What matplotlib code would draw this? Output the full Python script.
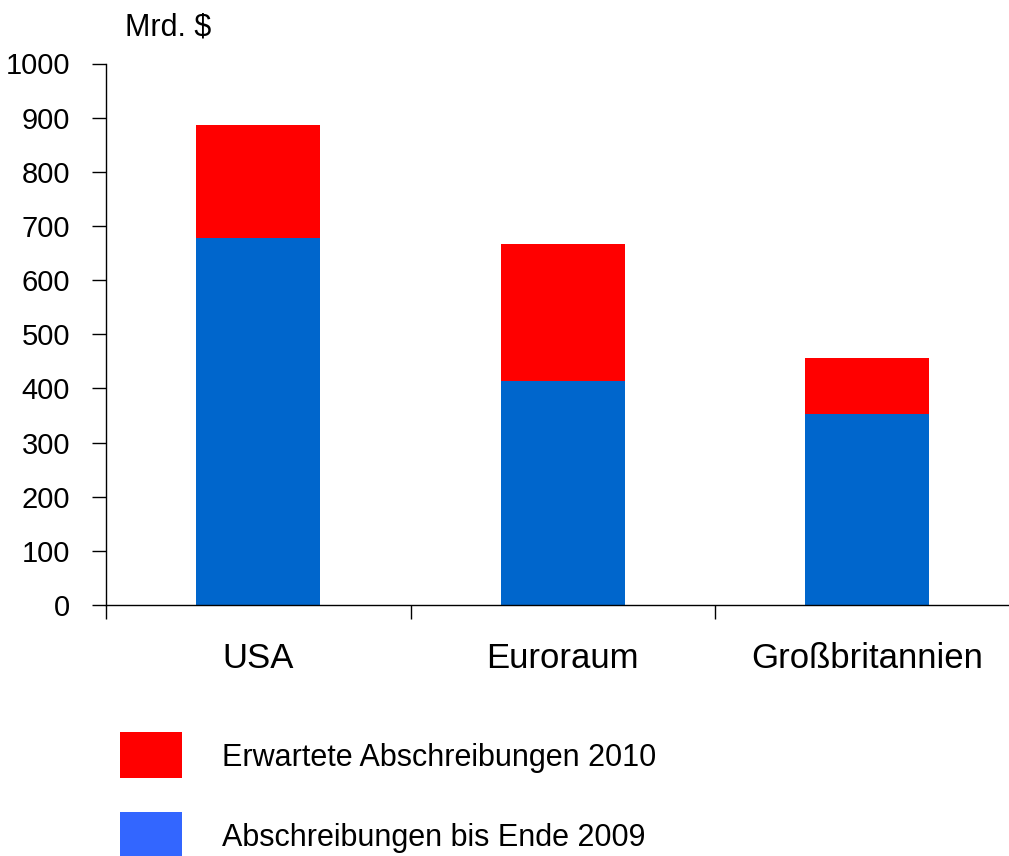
import matplotlib
matplotlib.use("Agg")
import matplotlib.pyplot as plt
from matplotlib.patches import Rectangle
from matplotlib.ticker import FixedLocator

plt.rcParams['font.family'] = ['Liberation Sans', 'DejaVu Sans']

categories = ["USA", "Euroraum", "Großbritannien"]
bis_2009 = [678, 413, 353]
erwartet_2010 = [208, 253, 103]
series_labels = ["Erwartete Abschreibungen 2010", "Abschreibungen bis Ende 2009"]
yticks = [0, 100, 200, 300, 400, 500, 600, 700, 800, 900, 1000]

W, H = 1009, 856
fig = plt.figure(figsize=(W / 100, H / 100), dpi=100)
ax = fig.add_axes([106 / W, 1 - 605 / H, 913.5 / W, (605 - 63.5) / H])

x = list(range(len(categories)))
ax.bar(x, bis_2009, width=0.407, color="#0066CC", zorder=2)
ax.bar(x, erwartet_2010, width=0.407, bottom=bis_2009, color="#FF0000", zorder=2)

ax.set_xlim(-0.5, len(categories) - 0.5)
ax.set_ylim(0, 1000)
ax.set_yticks(yticks)
ax.set_yticklabels([str(v) for v in yticks])
ax.set_xticks(x)
ax.set_xticklabels(categories)
ax.xaxis.set_minor_locator(FixedLocator([i - 0.5 for i in range(len(categories) + 1)]))

ax.spines['top'].set_visible(False)
ax.spines['right'].set_visible(False)
for s in ('left', 'bottom'):
    ax.spines[s].set_linewidth(1.0)
    ax.spines[s].set_color("#000000")

ax.tick_params(axis='y', direction='out', length=10, width=1.0, pad=16, labelsize=21)
ax.tick_params(axis='x', which='major', length=0, pad=27, labelsize=25)
ax.tick_params(axis='x', which='minor', direction='out', length=10, width=1.0)

fig.text(125 / W, 1 - 28 / H, "Mrd. $", fontsize=22, ha='left', va='center')

# legend
legend_colors = ["#FF0000", "#3366FF"]
legend_y = [732, 812]
for lab, col, yt in zip(series_labels, legend_colors, legend_y):
    fig.patches.append(Rectangle((120 / W, 1 - (yt + 46) / H), 62 / W, 46 / H,
                                 transform=fig.transFigure, facecolor=col,
                                 edgecolor='none'))
    fig.text(222 / W, 1 - (yt + 26) / H, lab, fontsize=22, ha='left', va='center')

fig.savefig("out.png", dpi=100)
